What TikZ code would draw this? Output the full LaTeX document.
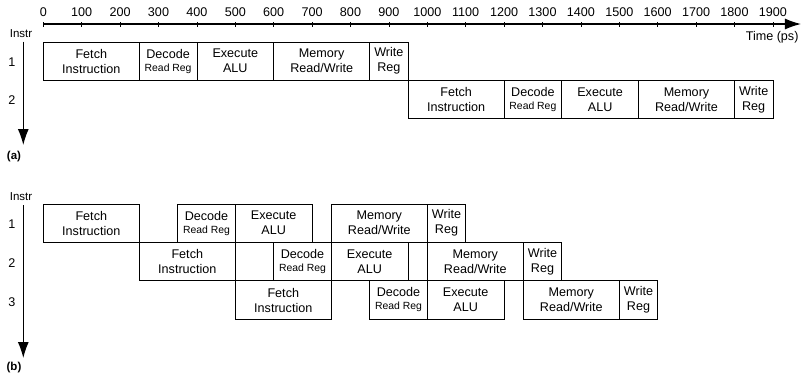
\documentclass[tikz,border=0pt]{standalone}
\usepackage{fontspec}
\setmainfont{Liberation Sans}
\usetikzlibrary{arrows.meta,positioning}

\begin{document}
\begin{tikzpicture}[
    x=0.384pt, y=-1pt,
    stage/.style={draw, line width=0.8pt, anchor=north west, inner sep=0pt, outer sep=0pt, minimum height=38.4pt, align=center, font=\fontsize{12.6}{15}\selectfont},
    dur/.style={minimum width=#1*0.384pt},
    label/.style={font=\fontsize{12.6}{15}\selectfont, inner sep=0pt},
    part/.style={font=\fontsize{11.5}{13}\selectfont\bfseries, inner sep=0pt},
    axis/.style={line width=1.1pt, -{Latex[length=16pt, width=11pt]}},
]
    \useasboundingbox (-112.76,0) rectangle (1978.4,376);

    % Time axis
    \coordinate (t0) at (0,24);
    \coordinate (tend) at (1973,24);
    \draw[axis] (t0) -- (tend);
    \foreach \t in {0,100,...,1900} {
        \draw[line width=0.8pt] (\t,22) -- (\t,27);
        \node[label] (tick\t) at (\t,12.5) {\t};
    }
    \node[label] (time) at (1898,37) {Time (ps)};

    % (a) single cycle
    \node[label, font=\fontsize{11.5}{13}\selectfont] (instra) at (-58,34) {Instr};
    \coordinate (atop) at (-52.1,41.7);
    \coordinate (abot) at (-52.1,145);
    \draw[axis] (atop) -- (abot);
    \node[label] (ra1) at (-81.5,62) {1};
    \node[label] (ra2) at (-81.5,100) {2};
    \node[part] (parta) at (-76.3,157) {(a)};

    \node[stage, dur=250] (af1) at (0,42) {Fetch\\Instruction};
    \node[stage, dur=150] (ad1) at (af1.north east) {Decode\\[-2pt]{\fontsize{10.4}{12}\selectfont Read Reg}};
    \node[stage, dur=200] (ae1) at (ad1.north east) {Execute\\ALU};
    \node[stage, dur=250] (am1) at (ae1.north east) {Memory\\Read/Write};
    \node[stage, dur=100] (aw1) at (am1.north east) {Write\\Reg};

    \node[stage, dur=250] (af2) at (aw1.south east) {Fetch\\Instruction};
    \node[stage, dur=150] (ad2) at (af2.north east) {Decode\\[-2pt]{\fontsize{10.4}{12}\selectfont Read Reg}};
    \node[stage, dur=200] (ae2) at (ad2.north east) {Execute\\ALU};
    \node[stage, dur=250] (am2) at (ae2.north east) {Memory\\Read/Write};
    \node[stage, dur=100] (aw2) at (am2.north east) {Write\\Reg};

    % (b) pipelined
    \node[label, font=\fontsize{11.5}{13}\selectfont] (instrb) at (-58,197) {Instr};
    \coordinate (btop) at (-52.1,205);
    \coordinate (bbot) at (-52.1,358);
    \draw[axis] (btop) -- (bbot);
    \node[label] (rb1) at (-81.5,224) {1};
    \node[label] (rb2) at (-81.5,263) {2};
    \node[label] (rb3) at (-81.5,302) {3};
    \node[part] (partb) at (-76.3,368) {(b)};

    \node[stage, dur=250] (bf1) at (0,204) {Fetch\\Instruction};
    \node[stage, dur=150] (bd1) at (350,204) {Decode\\[-2pt]{\fontsize{10.4}{12}\selectfont Read Reg}};
    \node[stage, dur=200] (be1) at (500,204) {Execute\\ALU};
    \node[stage, dur=250] (bm1) at (750,204) {Memory\\Read/Write};
    \node[stage, dur=100] (bw1) at (1000,204) {Write\\Reg};

    \node[stage, dur=250] (bf2) at (250,242.4) {Fetch\\Instruction};
    \node[stage, dur=150] (bd2) at (600,242.4) {Decode\\[-2pt]{\fontsize{10.4}{12}\selectfont Read Reg}};
    \node[stage, dur=200] (be2) at (750,242.4) {Execute\\ALU};
    \node[stage, dur=250] (bm2) at (1000,242.4) {Memory\\Read/Write};
    \node[stage, dur=100] (bw2) at (1250,242.4) {Write\\Reg};

    \node[stage, dur=250] (bf3) at (500,280.8) {Fetch\\Instruction};
    \node[stage, dur=150] (bd3) at (850,280.8) {Decode\\[-2pt]{\fontsize{10.4}{12}\selectfont Read Reg}};
    \node[stage, dur=200] (be3) at (1000,280.8) {Execute\\ALU};
    \node[stage, dur=250] (bm3) at (1250,280.8) {Memory\\Read/Write};
    \node[stage, dur=100] (bw3) at (1500,280.8) {Write\\Reg};
\end{tikzpicture}
\end{document}
